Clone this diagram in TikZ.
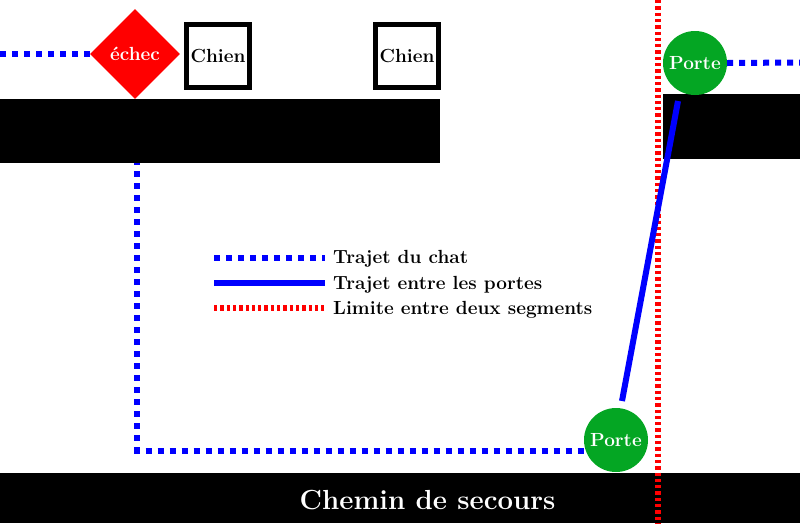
\documentclass[tikz,border=0pt]{standalone}
\usepackage{fontspec}
\usetikzlibrary{shapes.geometric,backgrounds}
\definecolor{vert}{RGB}{4,166,35}
\newcommand{\lbltxt}{\fontsize{19}{21}\selectfont\bfseries}
\newcommand{\bigtxt}{\fontsize{27.6}{30}\selectfont\bfseries}
\begin{document}
\begin{tikzpicture}[x=1pt,y=-1pt,
  chat/.style={blue, line width=6pt, dash pattern=on 6pt off 6pt},
  portes/.style={blue, line width=6pt},
  limite/.style={red, line width=6pt, dash pattern=on 3.3pt off 3pt},
  mur/.style={fill=black, draw=none, inner sep=0pt},
  chien/.style={draw=black, line width=5pt, fill=white, minimum width=63pt, minimum height=63pt, inner sep=0pt, font=\lbltxt},
  porte/.style={circle, fill=vert, minimum size=64pt, inner sep=0pt, text=white, font=\lbltxt},
  echecst/.style={diamond, fill=red, minimum width=90pt, minimum height=90pt, inner sep=0pt, text=white, font=\lbltxt},
  legende/.style={anchor=base west, inner sep=0pt, font=\lbltxt}]
\useasboundingbox (0,0) rectangle (800,523);

% walls
\node[mur, minimum width=440pt, minimum height=64pt] (mur1) at (220,131) {};
\node[mur, minimum width=137pt, minimum height=65pt] (mur2) at (731.5,126.5) {};
\node[mur, minimum width=800pt, minimum height=50pt] (secours) at (400,498) {};
\node[text=white, font=\bigtxt, anchor=base, inner sep=0pt] (titre) at (427.5,509.5) {Chemin de secours};

% segment limit
\coordinate (rh) at (657.5,0);
\coordinate (rb) at (657.5,523);
\draw[limite] (rh) -- (rb);

% nodes
\node[echecst] (echec) at (135,54) {échec};
\node[chien] (chien1) at (218,56) {Chien};
\node[chien] (chien2) at (407,56) {Chien};
\node[porte] (pt) at (695,63) {Porte};
\node[porte] (pb) at (616,440) {Porte};

% cat path
\begin{scope}[on background layer]
\coordinate (gauche) at (0,54);
\draw[chat] (gauche) -- (echec.west);
\coordinate (coin) at (137,450.5);
\draw[chat] (echec.south -| coin) -- (coin) -- (pb.center |- coin);
\coordinate (droite) at (800,62.5);
\draw[chat] (pt.east) -- (droite);
\end{scope}

% path between doors
\coordinate (s1) at (622,401);
\coordinate (s2) at (678,101);
\draw[portes] (s1) -- (s2);

% legend
\coordinate (l1a) at (214,257.5); \coordinate (l1b) at (325,257.5);
\coordinate (l2a) at (214,282.5); \coordinate (l2b) at (325,282.5);
\coordinate (l3a) at (214,307.5); \coordinate (l3b) at (325,307.5);
\draw[chat] (l1a) -- (l1b);
\draw[portes] (l2a) -- (l2b);
\draw[limite] (l3a) -- (l3b);
\node[legende] (t1) at (333,263) {Trajet du chat};
\node[legende] (t2) at (333,289) {Trajet entre les portes};
\node[legende] (t3) at (333,314) {Limite entre deux segments};
\end{tikzpicture}
\end{document}
